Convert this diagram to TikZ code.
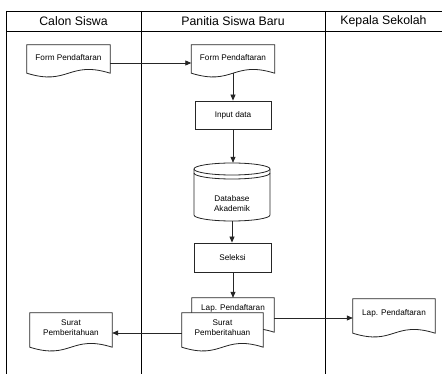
\documentclass[tikz,border=0pt]{standalone}
\usepackage{fontspec}
\setmainfont{Liberation Sans}
\usetikzlibrary{arrows.meta,calc}
\newcommand{\mydoc}[7]{%
  \path (#2,#3) node[minimum width=#4pt, minimum height=#5pt, inner sep=0pt] (#1) {};
  \draw[docline] (#1.north west) -- (#1.north east) -- (#1.south east)
    .. controls ($(#1.south)+(0,-13)$) and ($(#1.south)+(0,13)$) .. (#1.south west) -- cycle;
  \node[doctext] (#1-t) at (#2,#6) {#7};
}
\begin{document}
\begin{tikzpicture}[x=1pt,y=-1pt,
  lane/.style={draw=black, line width=0.9pt},
  hdr/.style={font=\fontsize{12.3}{14}\selectfont, inner sep=0pt},
  proc/.style={draw=black!85, line width=0.8pt, fill=white, inner sep=0pt,
    font=\fontsize{8.2}{10}\selectfont, align=center},
  doctext/.style={inner sep=0pt, font=\fontsize{8.2}{10}\selectfont, align=center},
  docline/.style={draw=black!85, line width=0.8pt, fill=white},
  flow/.style={draw=black!85, line width=0.8pt, -{Triangle[length=6pt,width=5pt]}},
]
\useasboundingbox (0,0) rectangle (442,374);
% swimlanes
\draw[lane] (6,11) -- (442,11);
\draw[lane] (6,31) -- (442,31);
\draw[lane] (6,11) -- (6,374);
\draw[lane] (141,11) -- (141,374);
\draw[lane] (325,11) -- (325,374);
\node[hdr] (h1) at (73.5,21) {Calon Siswa};
\node[hdr] (h2) at (233,21) {Panitia Siswa Baru};
\node[hdr] (h3) at (383.5,21) {Kepala Sekolah};
% documents top
\mydoc{f1}{68.5}{59}{83}{28}{58}{Form Pendaftaran}
\mydoc{f2}{233}{59}{83}{28}{58}{Form Pendaftaran}
% process
\node[proc, minimum width=76pt, minimum height=28pt] (inp) at (233,115) {Input data};
% database
\node[minimum width=76pt, minimum height=58pt, inner sep=0pt] (db) at (232,192) {};
\draw[docline] (194,169) -- (194,215) .. controls (194,218.3) and (211,221) .. (232,221)
  .. controls (253,221) and (270,218.3) .. (270,215) -- (270,169);
\draw[docline] (232,169) ellipse [x radius=38pt, y radius=6pt];
\draw[docline, fill=none] (194,173) .. controls (194,176.3) and (211,179) .. (232,179)
  .. controls (253,179) and (270,176.3) .. (270,173);
\node[doctext] (db-t) at (232,204) {Database\\Akademik};
\node[proc, minimum width=77pt, minimum height=29pt] (sel) at (232.5,257.5) {Seleksi};
% bottom documents
\mydoc{lap1}{233}{315}{82}{34}{308}{Lap. Pendaftaran}
\mydoc{sur1}{222.5}{330}{81}{34}{328}{Surat\\Pemberitahuan}
\mydoc{lap2}{394}{316}{82}{34}{313}{Lap. Pendaftaran}
\mydoc{sur2}{71}{330}{82}{34}{328}{Surat\\Pemberitahuan}
% flows
\draw[flow] ($(f1.east)+(0,4)$) -- ($(f2.west)+(0,4)$);
\draw[flow] (f2.south) -- (inp.north);
\draw[flow] (inp.south) -- (db.north -| inp.south);
\draw[flow] (db.south) -- (sel.north -| db.south);
\draw[flow] (sel.south -| lap1.north) -- (lap1.north);
\draw[flow] ($(lap1.east)+(0,3)$) -- ($(lap2.west)+(0,2)$);
\draw[flow] ($(sur1.west)+(0,3)$) -- ($(sur2.east)+(0,3)$);
\end{tikzpicture}
\end{document}
